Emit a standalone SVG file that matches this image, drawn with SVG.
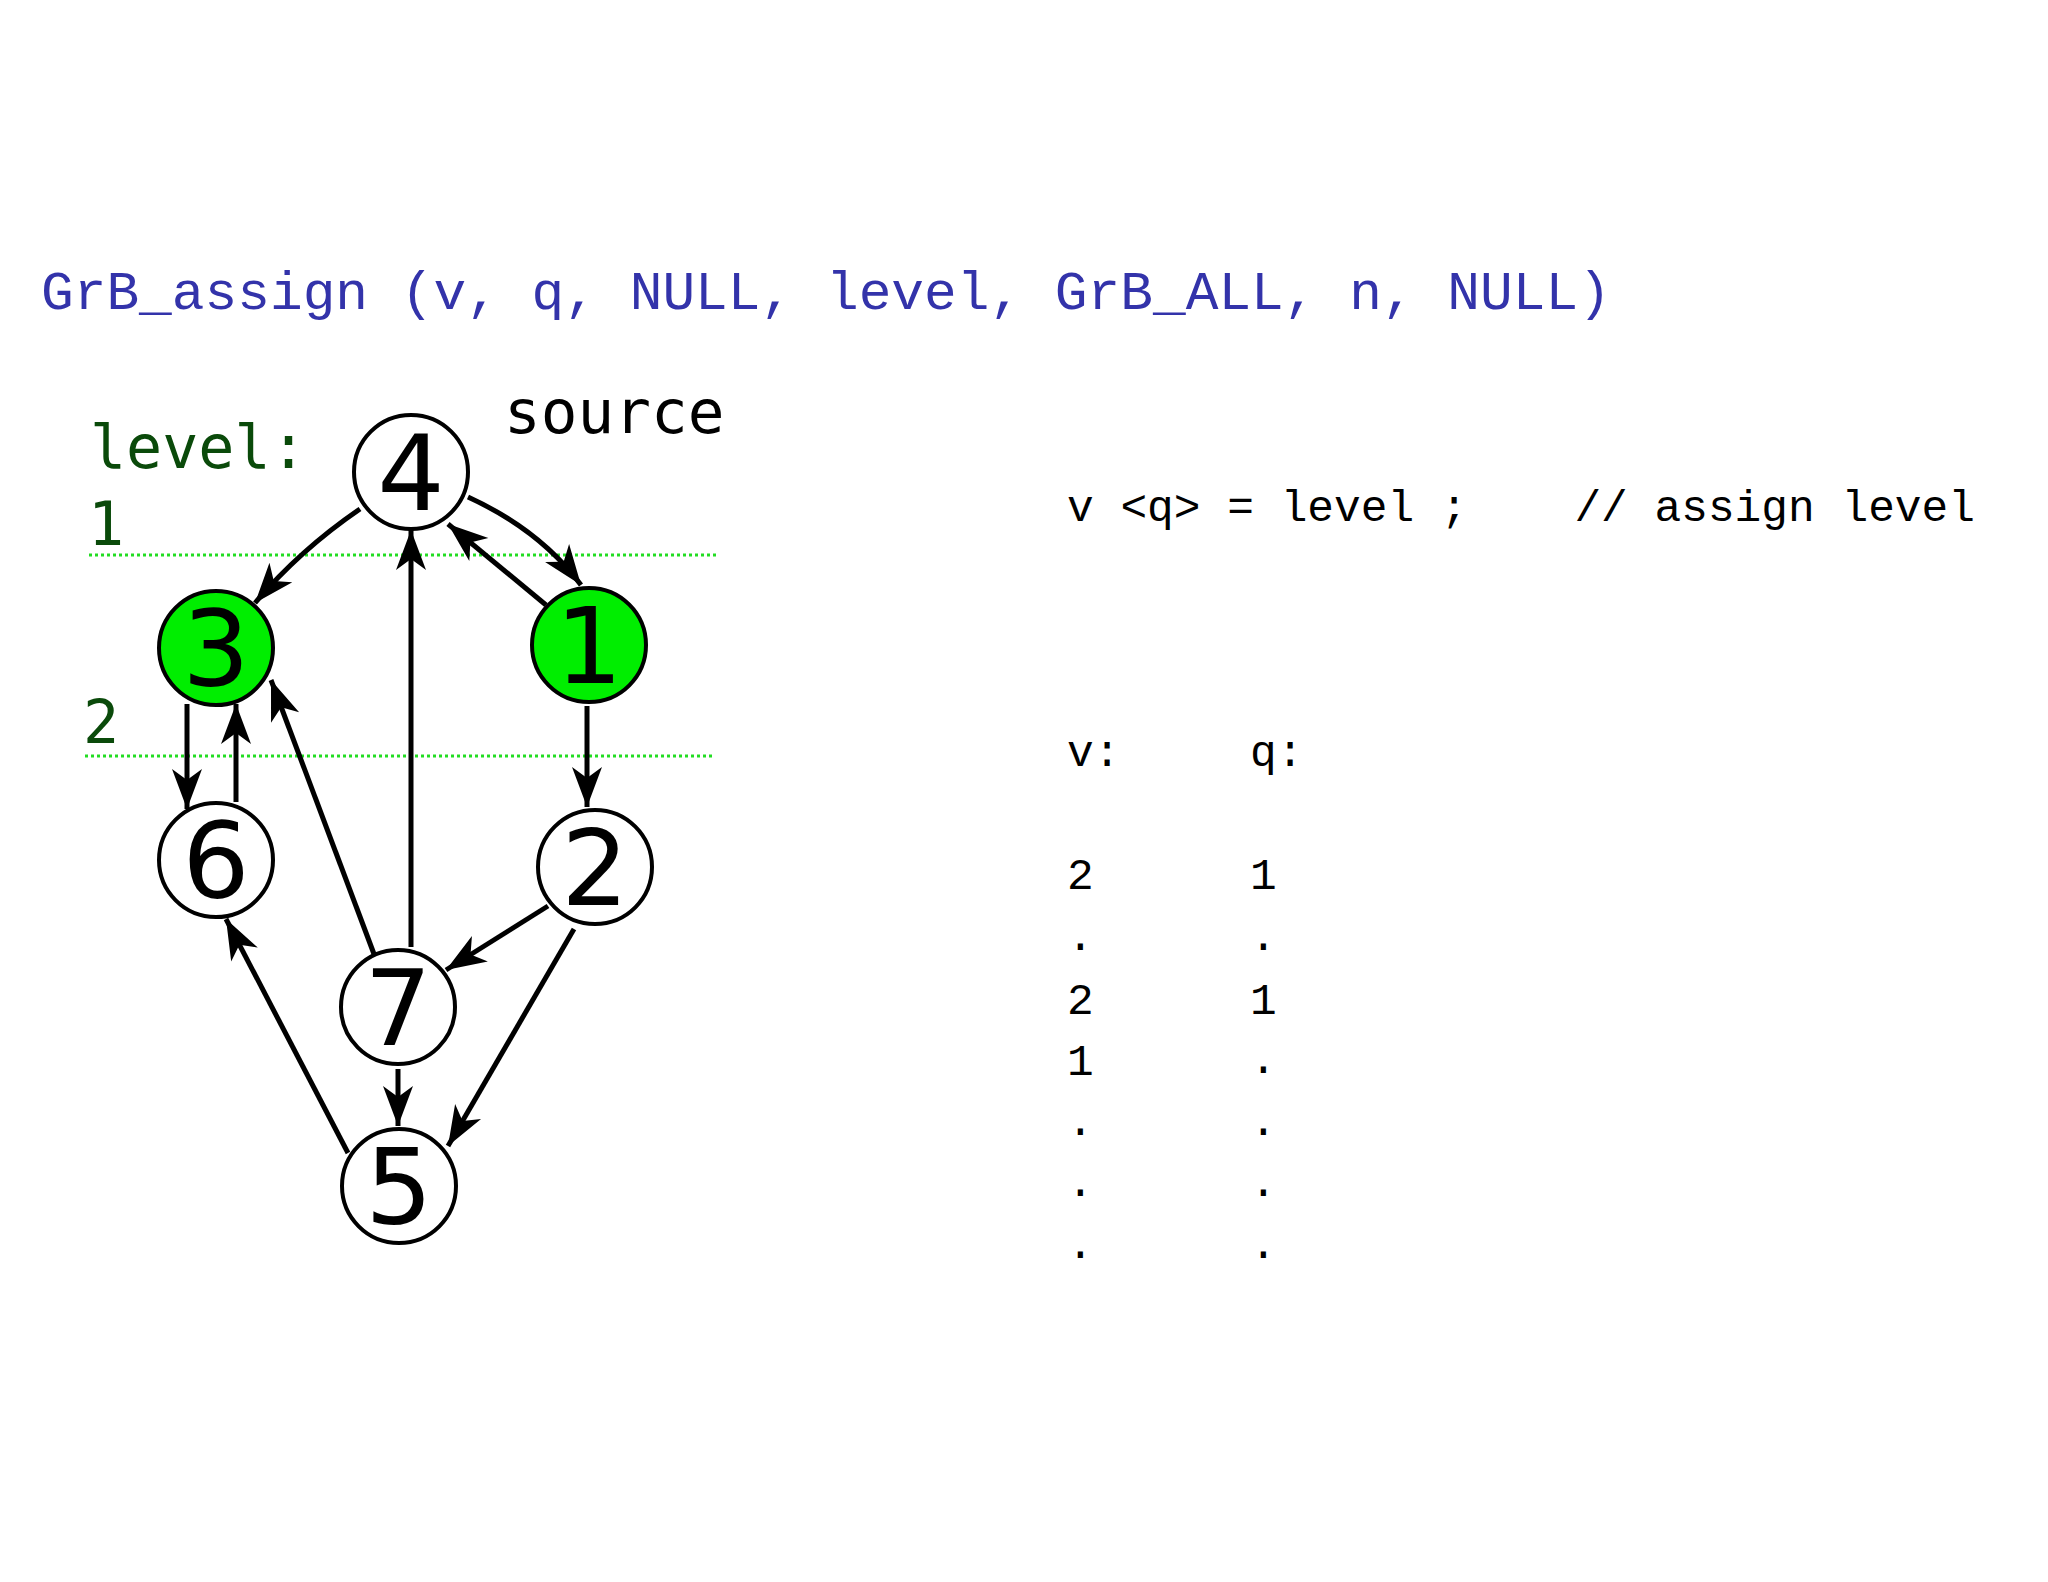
<svg xmlns="http://www.w3.org/2000/svg" width="2048" height="1582" viewBox="0 0 2048 1582">
<style>
.n circle{fill:#fff;stroke:#000;stroke-width:4}
.n.g circle{fill:#00ee00}
.n text{font-family:"DejaVu Sans",sans-serif;font-size:106px;text-anchor:middle;fill:#000}
.e path{fill:none;stroke:#000;stroke-width:5;marker-end:url(#a)}
.t{font-family:"Liberation Mono",monospace;font-size:44.5px;fill:#000}
.lv{font-family:"DejaVu Sans Mono",monospace;font-size:60px;fill:#0a4a0a}
.dl{stroke:#22dd22;stroke-width:3;stroke-dasharray:3 3}
</style>
<defs>
<marker id="a" markerUnits="userSpaceOnUse" markerWidth="50" markerHeight="40" viewBox="-42 -20 44 40" refX="0" refY="0" orient="auto">
<path d="M0,0 L-40,-15 L-29,0 L-40,15 z" fill="#000"/>
</marker>
</defs>
<rect width="2048" height="1582" fill="#fff"/>
<text x="41" y="309" font-family="Liberation Mono,monospace" font-size="54.5" fill="#3333aa">GrB_assign (v, q, NULL, level, GrB_ALL, n, NULL)</text>
<text class="lv" x="90" y="468">level:</text>
<text class="lv" x="88" y="545">1</text>
<text class="lv" x="83" y="743">2</text>
<line class="dl" x1="89" y1="555" x2="719" y2="555"/>
<line class="dl" x1="85" y1="756" x2="715" y2="756"/>
<text x="504" y="433" font-family="DejaVu Sans Mono,monospace" font-size="61" fill="#000">source</text>
<g class="e" id="edges">
<path d="M360,509 Q300,550 255,603"/>
<path d="M468,497 Q540,530 581,585"/>
<path d="M546,605 L448,524"/>
<path d="M411,947 L411,530"/>
<path d="M187,704 L187,809"/>
<path d="M236,802 L236,704"/>
<path d="M587,706 L587,807"/>
<path d="M374,954 L271,680"/>
<path d="M548,906 L446,970"/>
<path d="M574,929 L448,1146"/>
<path d="M398,1069 L398,1126"/>
<path d="M348,1153 L226,919"/>
</g>
<g class="n" id="n4"><circle cx="411" cy="472" r="57"/><text x="411" y="510">4</text></g>
<g class="n g" id="n3"><circle cx="216" cy="648" r="57"/><text x="216" y="686">3</text></g>
<g class="n g" id="n1"><circle cx="589" cy="645" r="57"/><text x="589" y="683">1</text></g>
<g class="n" id="n6"><circle cx="216" cy="860" r="57"/><text x="216" y="898">6</text></g>
<g class="n" id="n2"><circle cx="595" cy="867" r="57"/><text x="595" y="905">2</text></g>
<g class="n" id="n7"><circle cx="398" cy="1007" r="57"/><text x="398" y="1045">7</text></g>
<g class="n" id="n5"><circle cx="399" cy="1186" r="57"/><text x="399" y="1224">5</text></g>
<text class="t" x="1067" y="521" xml:space="preserve">v &lt;q&gt; = level ;    // assign level</text>
<text class="t" x="1067" y="766">v:</text><text class="t" x="1250" y="766">q:</text>
<text class="t" x="1067" y="889">2</text><text class="t" x="1250" y="889">1</text>
<text class="t" x="1067" y="950">.</text><text class="t" x="1250" y="950">.</text>
<text class="t" x="1067" y="1014">2</text><text class="t" x="1250" y="1014">1</text>
<text class="t" x="1067" y="1075">1</text><text class="t" x="1250" y="1073">.</text>
<text class="t" x="1067" y="1135">.</text><text class="t" x="1250" y="1135">.</text>
<text class="t" x="1067" y="1196">.</text><text class="t" x="1250" y="1196">.</text>
<text class="t" x="1067" y="1258">.</text><text class="t" x="1250" y="1258">.</text>
</svg>
